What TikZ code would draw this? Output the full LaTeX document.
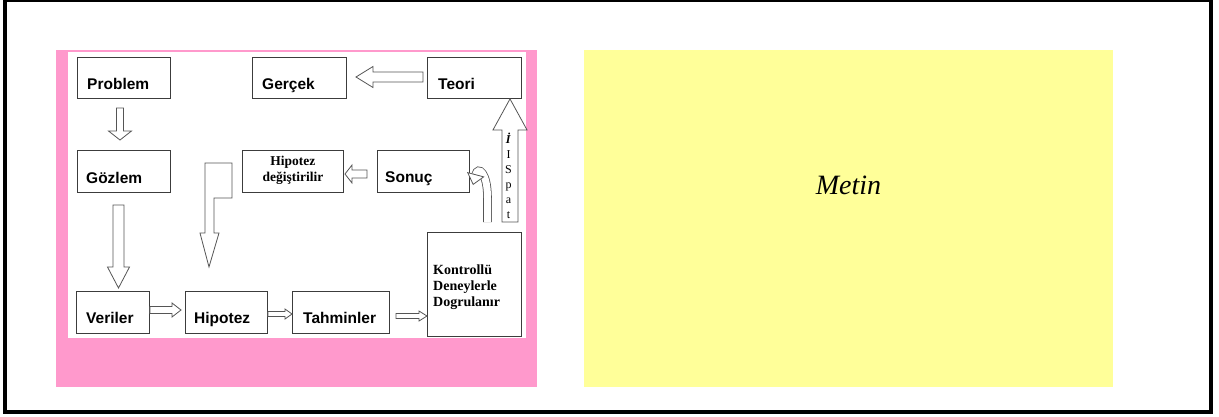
\documentclass[tikz,border=0pt]{standalone}
\usepackage{fontspec}
\setmainfont{Liberation Serif}
\newfontfamily\sansb{Liberation Sans}
\usetikzlibrary{calc,arrows.meta}
\definecolor{pinkbg}{RGB}{255,153,204}
\definecolor{yellowbg}{RGB}{255,255,153}
\definecolor{edgec}{RGB}{60,60,60}
\definecolor{arrc}{RGB}{85,85,85}
\tikzset{
  box/.style={draw=edgec, line width=0.9pt, fill=white, anchor=north west, inner sep=0pt},
  lbl/.style={anchor=base west, inner sep=0pt, font=\sansb\fontsize{15.5}{18}\selectfont\bfseries},
  serifb/.style={inner sep=0pt, font=\fontsize{14}{16}\selectfont\bfseries},
  arrowline/.style={draw=arrc, line width=0.8pt, fill=white, line join=miter},
}
% #1 start, #2 tip, #3 shaft half width, #4 head half width, #5 head length
\newcommand\hollowarrow[5]{%
  \coordinate (hb) at ($(#2)!#5!(#1)$);
  \draw[arrowline] ($(#1)!#3!90:(#2)$) -- ($(hb)!#3!90:(#2)$) -- ($(hb)!#4!90:(#2)$)
    -- (#2) -- ($(hb)!#4!-90:(#2)$) -- ($(hb)!#3!-90:(#2)$) -- ($(#1)!#3!-90:(#2)$) -- cycle;
}
\begin{document}
\begin{tikzpicture}[x=1pt,y=-1pt]
\useasboundingbox (0,0) rectangle (1219,416);
% outer frame
\draw[black, line width=4pt] (5,0) rectangle (1211,412);
% panels
\fill[pinkbg] (56,50) rectangle (537,387);
\fill[white] (68,52) rectangle (526,338);
\fill[yellowbg] (584,50) rectangle (1113,387);
\node[font=\fontsize{28}{34}\selectfont\itshape] (metin) at (848.5,185) {Metin};

% boxes
\node[box, minimum width=93pt, minimum height=41pt] (problem) at (77,57) {};
\node[box, minimum width=94pt, minimum height=41pt] (gercek) at (252,57) {};
\node[box, minimum width=94pt, minimum height=41pt] (teori) at (427,57) {};
\node[box, minimum width=93pt, minimum height=42pt] (gozlem) at (77,150) {};
\node[box, minimum width=101pt, minimum height=42pt] (hipdeg) at (242,150) {};
\node[box, minimum width=92pt, minimum height=42pt] (sonuc) at (377,150) {};
\node[box, minimum width=73pt, minimum height=42pt] (veriler) at (76,291) {};
\node[box, minimum width=82pt, minimum height=42pt] (hipotez) at (185,291) {};
\node[box, minimum width=97pt, minimum height=42pt] (tahmin) at (292,291) {};
\node[box, minimum width=94pt, minimum height=104pt] (kontrol) at (427,232) {};

% labels
\node[lbl] (tproblem) at ($(problem.south west)+(10,-9)$) {Problem};
\node[lbl] (tgercek) at ($(gercek.south west)+(10,-9)$) {Gerçek};
\node[lbl] (tteori) at ($(teori.south west)+(11,-9)$) {Teori};
\node[lbl] (tgozlem) at ($(gozlem.south west)+(9,-9)$) {Gözlem};
\node[lbl] (tsonuc) at ($(sonuc.south west)+(8,-10)$) {Sonuç};
\node[lbl] (tveriler) at ($(veriler.south west)+(10,-10)$) {Veriler};
\node[lbl] (thipotez) at ($(hipotez.south west)+(9,-10)$) {Hipotez};
\node[lbl] (ttahmin) at ($(tahmin.south west)+(11,-10)$) {Tahminler};
\node[serifb, align=center, font=\fontsize{13.5}{15.5}\selectfont\bfseries] (thipdeg) at ($(hipdeg.center)+(0,-1)$) {Hipotez\\değiştirilir};
\node[serifb, align=left, anchor=north west] (tkontrol) at (433,265) {Kontrollü\\Deneylerle\\Dogrulanır};

% helper coordinates
\coordinate (y310) at (0,310);
\coordinate (y314) at (0,314);
\coordinate (y316) at (0,316);
\coordinate (x510) at (510,0);

% block arrows
\coordinate (a1s) at (120,108); \coordinate (a1e) at (120,140);
\hollowarrow{a1s}{a1e}{3.5pt}{11.5pt}{9pt}
\coordinate (a2s) at (118.5,205); \coordinate (a2e) at (118.5,288);
\hollowarrow{a2s}{a2e}{5.5pt}{11pt}{21pt}
\coordinate (a3s) at (veriler.east |- y310); \coordinate (a3e) at (181,310);
\hollowarrow{a3s}{a3e}{3.5pt}{7pt}{9pt}
\coordinate (a4s) at (hipotez.east |- y314); \coordinate (a4e) at (tahmin.west |- y314);
\hollowarrow{a4s}{a4e}{2.5pt}{5pt}{7pt}
\coordinate (a5s) at (396,316); \coordinate (a5e) at (kontrol.west |- y316);
\hollowarrow{a5s}{a5e}{2.5pt}{5pt}{8pt}
\coordinate (a6s) at (423,77); \coordinate (a6e) at (356,77);
\hollowarrow{a6s}{a6e}{5pt}{10.5pt}{17pt}
\coordinate (a7s) at (367,174); \coordinate (a7e) at (345,174);
\hollowarrow{a7s}{a7e}{4pt}{9pt}{7pt}
\coordinate (a8s) at (510,222); \coordinate (a8e) at (teori.south -| x510);
\hollowarrow{a8s}{a8e}{8pt}{17pt}{31pt}
\node[inner sep=0pt, align=center, font=\fontsize{12}{15}\selectfont] (ispat) at (508.5,176)
  {\textbf{\textit{İ}}\\I\\S\\p\\a\\t};

% bent arrow from Hipotez degistirilir down to Hipotez
\draw[arrowline] (205,163) -- (232,163) -- (232,198) -- (214,198) -- (214,233)
  -- (219,233) -- (209,267) -- (200,233) -- (205,233) -- cycle;

% curved arrow from Kontrollu to Sonuc
\coordinate (c1) at (487.5,222);
\coordinate (c2) at (473,185);
\draw[draw=arrc, line width=0.8pt, double=white, double distance=7pt,
  -{Triangle[open, length=11pt, width=18pt, fill=white]}]
  (c1) -- (487.5,198) .. controls (487.5,172) and (478,166) .. (c2);
\end{tikzpicture}
\end{document}
